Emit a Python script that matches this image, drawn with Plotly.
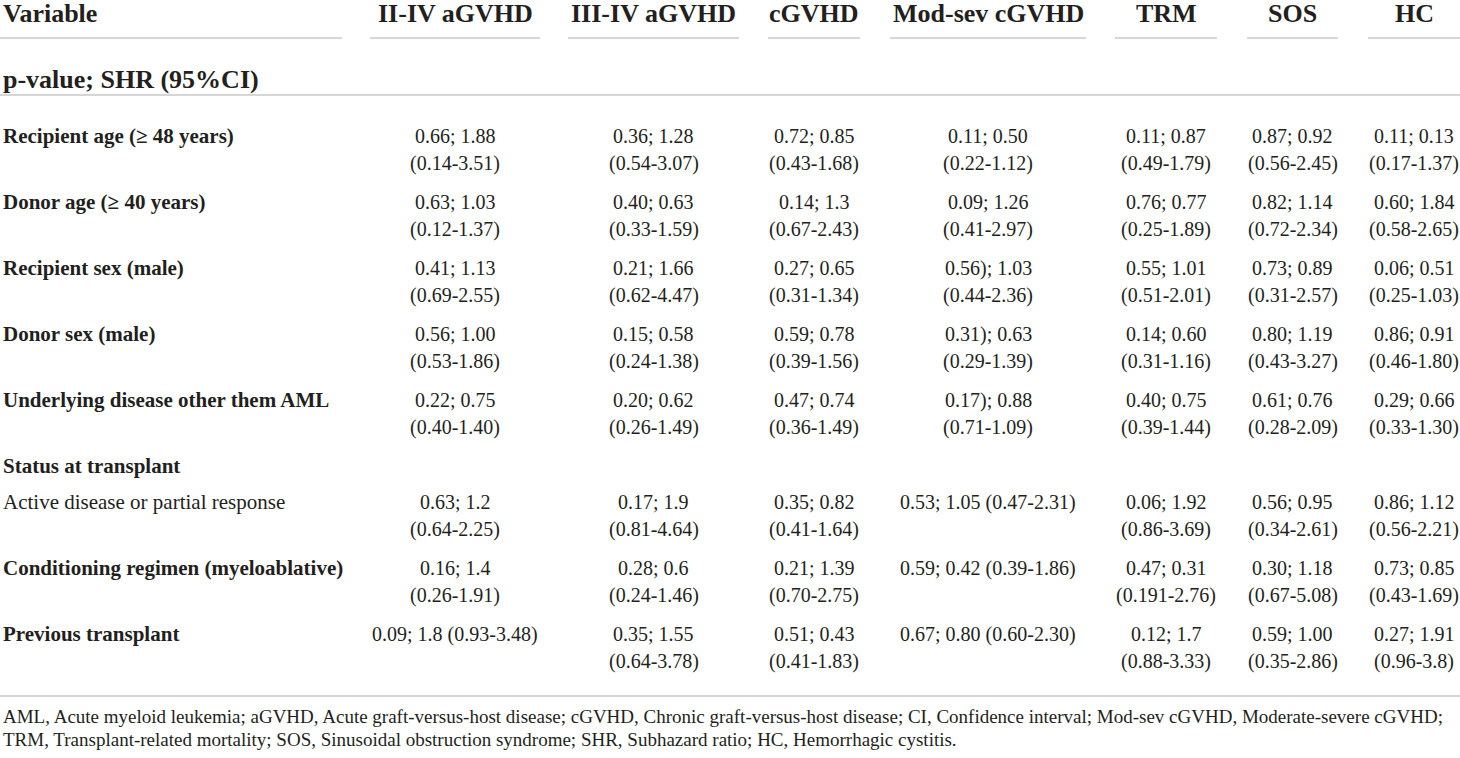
import plotly.graph_objects as go

# %%
# table content
columns = ["II-IV aGVHD", "III-IV aGVHD", "cGVHD", "Mod-sev cGVHD", "TRM", "SOS", "HC"]
first_header = "Variable"
subtitle = "p-value; SHR (95%CI)"

variables = [
    "Recipient age (≥ 48 years)",
    "Donor age (≥ 40 years)",
    "Recipient sex (male)",
    "Donor sex (male)",
    "Underlying disease other them AML",
    "Status at transplant",
    "Active disease or partial response",
    "Conditioning regimen (myeloablative)",
    "Previous transplant",
]
bold_variable = [True, True, True, True, True, True, False, True, True]

# one list per variable, one string per column ("\n" = line break as printed)
recipient_age = ["0.66; 1.88\n(0.14-3.51)", "0.36; 1.28\n(0.54-3.07)", "0.72; 0.85\n(0.43-1.68)",
                 "0.11; 0.50\n(0.22-1.12)", "0.11; 0.87\n(0.49-1.79)", "0.87; 0.92\n(0.56-2.45)",
                 "0.11; 0.13\n(0.17-1.37)"]
donor_age = ["0.63; 1.03\n(0.12-1.37)", "0.40; 0.63\n(0.33-1.59)", "0.14; 1.3\n(0.67-2.43)",
             "0.09; 1.26\n(0.41-2.97)", "0.76; 0.77\n(0.25-1.89)", "0.82; 1.14\n(0.72-2.34)",
             "0.60; 1.84\n(0.58-2.65)"]
recipient_sex = ["0.41; 1.13\n(0.69-2.55)", "0.21; 1.66\n(0.62-4.47)", "0.27; 0.65\n(0.31-1.34)",
                 "0.56); 1.03\n(0.44-2.36)", "0.55; 1.01\n(0.51-2.01)", "0.73; 0.89\n(0.31-2.57)",
                 "0.06; 0.51\n(0.25-1.03)"]
donor_sex = ["0.56; 1.00\n(0.53-1.86)", "0.15; 0.58\n(0.24-1.38)", "0.59; 0.78\n(0.39-1.56)",
             "0.31); 0.63\n(0.29-1.39)", "0.14; 0.60\n(0.31-1.16)", "0.80; 1.19\n(0.43-3.27)",
             "0.86; 0.91\n(0.46-1.80)"]
underlying = ["0.22; 0.75\n(0.40-1.40)", "0.20; 0.62\n(0.26-1.49)", "0.47; 0.74\n(0.36-1.49)",
              "0.17); 0.88\n(0.71-1.09)", "0.40; 0.75\n(0.39-1.44)", "0.61; 0.76\n(0.28-2.09)",
              "0.29; 0.66\n(0.33-1.30)"]
status = ["", "", "", "", "", "", ""]
active_disease = ["0.63; 1.2\n(0.64-2.25)", "0.17; 1.9\n(0.81-4.64)", "0.35; 0.82\n(0.41-1.64)",
                  "0.53; 1.05 (0.47-2.31)", "0.06; 1.92\n(0.86-3.69)", "0.56; 0.95\n(0.34-2.61)",
                  "0.86; 1.12\n(0.56-2.21)"]
conditioning = ["0.16; 1.4\n(0.26-1.91)", "0.28; 0.6\n(0.24-1.46)", "0.21; 1.39\n(0.70-2.75)",
                "0.59; 0.42 (0.39-1.86)", "0.47; 0.31\n(0.191-2.76)", "0.30; 1.18\n(0.67-5.08)",
                "0.73; 0.85\n(0.43-1.69)"]
previous_tx = ["0.09; 1.8 (0.93-3.48)", "0.35; 1.55\n(0.64-3.78)", "0.51; 0.43\n(0.41-1.83)",
               "0.67; 0.80 (0.60-2.30)", "0.12; 1.7\n(0.88-3.33)", "0.59; 1.00\n(0.35-2.86)",
               "0.27; 1.91\n(0.96-3.8)"]
cell_rows = [recipient_age, donor_age, recipient_sex, donor_sex, underlying,
             status, active_disease, conditioning, previous_tx]

footnote = [
    "AML, Acute myeloid leukemia; aGVHD, Acute graft-versus-host disease; cGVHD, Chronic graft-versus-host disease; "
    "CI, Confidence interval; Mod-sev cGVHD, Moderate-severe cGVHD;",
    "TRM, Transplant-related mortality; SOS, Sinusoidal obstruction syndrome; SHR, Subhazard ratio; HC, Hemorrhagic cystitis.",
]

# %%
# layout (pixel units on hidden axes)
W, H = 1460, 758
FONT = "Liberation Serif"
TXT = "#231f20"
RULE = "#c8c8c8"
spans = [(0, 342), (370, 540), (568, 739), (768, 860), (890, 1086), (1115, 1217), (1247, 1338), (1368, 1460)]
col_x = [(a + b) / 2 for a, b in spans[1:]]
header_y, header_rule_y = 13, 38
sub_y, sub_rule_y = 79, 95
first_row_y = 136
line_h = 27
row_pitch = 66
sub_row_pitch = 36
bottom_rule_y = 696
foot_y, foot_h = 716, 23

fig = go.Figure()

def txt(x, y, s, size, bold=False, anchor="center"):
    fig.add_annotation(x=x, y=y, xref="x", yref="y", text=f"<b>{s}</b>" if bold else s,
                       showarrow=False, xanchor=anchor, yanchor="middle",
                       font=dict(family=FONT, size=size, color=TXT))

# header
txt(spans[0][0] + 1, header_y, first_header, 26, bold=True, anchor="left")
for x, name in zip(col_x, columns):
    txt(x, header_y, name, 26, bold=True)
for a, b in spans:
    fig.add_shape(type="line", x0=a, x1=b, y0=header_rule_y, y1=header_rule_y,
                  xref="x", yref="y", line=dict(color=RULE, width=1.6))
txt(1, sub_y, subtitle, 26, bold=True, anchor="left")
fig.add_shape(type="line", x0=0, x1=W, y0=sub_rule_y, y1=sub_rule_y,
              xref="x", yref="y", line=dict(color=RULE, width=1.6))

# body
y = first_row_y
for name, bold, cells in zip(variables, bold_variable, cell_rows):
    txt(1, y, name, 21, bold=bold, anchor="left")
    for x, cell in zip(col_x, cells):
        for k, part in enumerate(cell.split("\n")):
            if part:
                txt(x, y + k * line_h, part, 20)
    y += row_pitch if any(cells) else sub_row_pitch

fig.add_shape(type="line", x0=0, x1=W, y0=bottom_rule_y, y1=bottom_rule_y,
              xref="x", yref="y", line=dict(color=RULE, width=1.6))
for k, line in enumerate(footnote):
    txt(1, foot_y + k * foot_h, line, 19, anchor="left")

fig.update_xaxes(range=[0, W], visible=False, fixedrange=True)
fig.update_yaxes(range=[H, 0], visible=False, fixedrange=True)
fig.update_layout(width=W, height=H, margin=dict(l=0, r=0, t=0, b=0),
                  paper_bgcolor="white", plot_bgcolor="white", showlegend=False)
fig.write_html("out.html", config={"displayModeBar": False},
               post_script="document.body.style.margin='0';document.body.style.overflow='hidden';")
